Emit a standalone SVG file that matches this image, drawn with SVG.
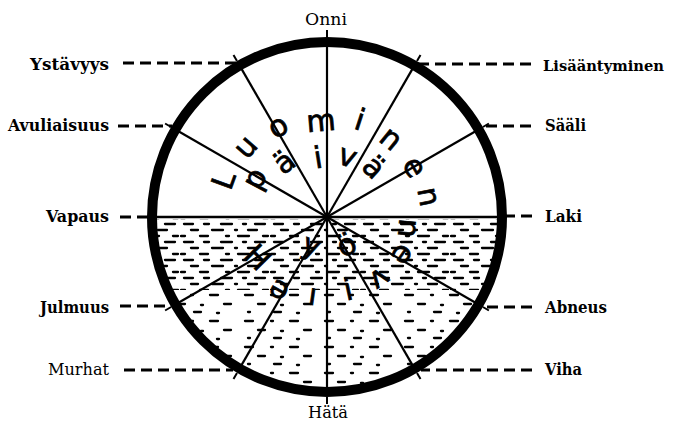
<svg xmlns="http://www.w3.org/2000/svg" width="673" height="421" viewBox="0 0 673 421">
<style>
.lbl{font-family:"DejaVu Serif","Liberation Serif",serif;font-weight:bold;font-size:16px;fill:#000}
.lbl2{font-family:"DejaVu Serif","Liberation Serif",serif;font-weight:normal;font-size:16px;fill:#000}
.dash{stroke:#000;stroke-width:2.8;stroke-dasharray:11 6;fill:none}
.spoke{stroke:#000;stroke-width:2.2;fill:none}
.tick{stroke:#000;stroke-width:2;fill:none}
.let{font-family:"DejaVu Sans","Noto Sans",sans-serif;font-size:30px;text-anchor:middle;fill:#000;stroke:#000;stroke-width:0.7}
.w{stroke:#000;stroke-width:2.3;stroke-linecap:round}
</style>
<defs>
<clipPath id="lowerHalf"><path d="M152 217 A175 175 0 0 0 502 217 Z"/></clipPath>
<pattern id="waterA" patternUnits="userSpaceOnUse" x="0" y="222" width="90" height="18">
<g class="w">
<line x1="4" y1="2" x2="13" y2="2"/><line x1="24" y1="2" x2="29" y2="2"/><line x1="41" y1="2" x2="52" y2="2"/><line x1="63" y1="2" x2="66" y2="2"/><line x1="75" y1="2" x2="85" y2="2"/>
<line x1="11" y1="8" x2="18" y2="8"/><line x1="32" y1="8" x2="43" y2="8"/><line x1="55" y1="8" x2="57" y2="8"/><line x1="68" y1="8" x2="77" y2="8"/>
<line x1="1" y1="14" x2="5" y2="14"/><line x1="20" y1="14" x2="28" y2="14"/><line x1="46" y1="14" x2="49" y2="14"/><line x1="58" y1="14" x2="69" y2="14"/><line x1="83" y1="14" x2="88" y2="14"/>
</g>
</pattern>
<pattern id="waterB" patternUnits="userSpaceOnUse" x="0" y="290" width="80" height="26">
<g class="w">
<line x1="5" y1="5" x2="13" y2="5"/><line x1="31" y1="5" x2="33" y2="5"/><line x1="50" y1="5" x2="58" y2="5"/>
<line x1="18" y1="14" x2="25" y2="14"/><line x1="41" y1="15" x2="43" y2="15"/><line x1="64" y1="14" x2="71" y2="14"/>
<line x1="8" y1="22" x2="10" y2="22"/><line x1="34" y1="22" x2="41" y2="22"/><line x1="57" y1="23" x2="59" y2="23"/>
</g>
</pattern>
</defs>
<rect width="673" height="421" fill="#fff"/>
<g id="wheel">
<circle cx="327" cy="217" r="175" fill="#fff"/>
<g clip-path="url(#lowerHalf)">
<rect x="150" y="219" width="355" height="71" fill="url(#waterA)"/>
<rect x="150" y="290" width="355" height="108" fill="url(#waterB)"/>
</g>
<g class="spoke">
<line x1="327" y1="217" x2="327" y2="42"/>
<line x1="327" y1="217" x2="414.5" y2="65.4"/>
<line x1="327" y1="217" x2="239.5" y2="65.4"/>
<line x1="327" y1="217" x2="478.6" y2="129.5"/>
<line x1="327" y1="217" x2="175.4" y2="129.5"/>
<line x1="327" y1="217" x2="502" y2="217" stroke-width="2.6"/>
<line x1="327" y1="217" x2="152" y2="217" stroke-width="2.6"/>
<line x1="327" y1="217" x2="478.6" y2="304.5"/>
<line x1="327" y1="217" x2="175.4" y2="304.5"/>
<line x1="327" y1="217" x2="414.5" y2="368.6"/>
<line x1="327" y1="217" x2="239.5" y2="368.6"/>
<line x1="327" y1="217" x2="327" y2="392"/>
</g>
<circle cx="327" cy="217" r="175" fill="none" stroke="#000" stroke-width="10"/>
<g class="tick">
<line x1="327" y1="37" x2="327" y2="30"/>
<line x1="417" y1="61.1" x2="420.5" y2="55.1"/>
<line x1="237" y1="61.1" x2="233.5" y2="55.1"/>
<line x1="482.9" y1="127" x2="488.9" y2="123.5"/>
<line x1="171.1" y1="127" x2="165.1" y2="123.5"/>
<line x1="482.9" y1="307" x2="488.9" y2="310.5"/>
<line x1="171.1" y1="307" x2="165.1" y2="310.5"/>
<line x1="417" y1="372.9" x2="420.5" y2="378.9"/>
<line x1="237" y1="372.9" x2="233.5" y2="378.9"/>
<line x1="327" y1="397" x2="327" y2="404"/>
</g>
<g id="luominen">
<text class="let" transform="translate(223,180) rotate(-70)" y="11">L</text>
<text class="let" transform="translate(247,148) rotate(-49)" y="8">u</text>
<text class="let" transform="translate(279,128) rotate(-29)" y="8">o</text>
<text class="let" transform="translate(321,123) rotate(-5)" y="8">m</text>
<text class="let" transform="translate(360,119) rotate(18)" y="11">i</text>
<text class="let" transform="translate(390,140) rotate(39)" y="8">n</text>
<text class="let" transform="translate(413,168) rotate(60)" y="8">e</text>
<text class="let" transform="translate(427,197) rotate(79)" y="8">n</text>
</g>
<g id="paiva">
<text class="let" transform="translate(259,181) rotate(-62)" y="5">p</text>
<text class="let" transform="translate(285,163) rotate(-38)" y="9">ä</text>
<text class="let" transform="translate(318,157) rotate(-9)" y="11">i</text>
<text class="let" transform="translate(347,158) rotate(19)" y="8">v</text>
<text class="let" transform="translate(373,168) rotate(43)" y="9">ä</text>
</g>
<g id="reflection">
<text class="let" transform="translate(258,257) rotate(45)" y="11">H</text>
<text class="let" transform="translate(310,250) rotate(20)" y="5">y</text>
<text class="let" transform="translate(347,246) rotate(-25)" y="9">ö</text>
<text class="let" transform="translate(402,254) rotate(-55)" y="8">ə</text>
<text class="let" transform="translate(407,228) rotate(-85)" y="8">u</text>
<text class="let" transform="translate(279,290) rotate(30)" y="8">ə</text>
<text class="let" transform="translate(313,294) rotate(8)" y="11">ı</text>
<text class="let" transform="translate(348,289) rotate(-12)" y="11">i</text>
<text class="let" transform="translate(379,278) rotate(-35)" y="8">ʌ</text>
</g>
</g>
<g id="connectors">
<line class="dash" x1="123" y1="63" x2="236" y2="63"/>
<line class="dash" x1="118" y1="126" x2="172" y2="126"/>
<line class="dash" x1="120" y1="217" x2="148" y2="217"/>
<line class="dash" x1="120" y1="306" x2="171" y2="306"/>
<line class="dash" x1="124" y1="370" x2="233" y2="370"/>
<line class="dash" x1="531" y1="64" x2="418" y2="64"/>
<line class="dash" x1="531" y1="126" x2="482" y2="126"/>
<line class="dash" x1="532" y1="216" x2="506" y2="216"/>
<line class="dash" x1="532" y1="307" x2="483" y2="307"/>
<line class="dash" x1="532" y1="370" x2="421" y2="370"/>
</g>
<g id="onni"><text class="lbl2" x="305" y="25" textLength="42" lengthAdjust="spacingAndGlyphs">Onni</text></g>
<g id="hata"><text class="lbl2" x="308" y="418" textLength="40" lengthAdjust="spacingAndGlyphs">Hätä</text></g>
<g id="ystavyys"><text class="lbl" x="30" y="70" textLength="79" lengthAdjust="spacingAndGlyphs">Ystävyys</text></g>
<g id="avuliaisuus"><text class="lbl" x="8" y="131" textLength="101" lengthAdjust="spacingAndGlyphs">Avuliaisuus</text></g>
<g id="vapaus"><text class="lbl" x="46" y="222" textLength="63" lengthAdjust="spacingAndGlyphs">Vapaus</text></g>
<g id="julmuus"><text class="lbl" x="40" y="313" textLength="69" lengthAdjust="spacingAndGlyphs">Julmuus</text></g>
<g id="murhat"><text class="lbl2" x="48" y="375" textLength="61" lengthAdjust="spacingAndGlyphs">Murhat</text></g>
<g id="lisaantyminen"><text class="lbl" x="543" y="71" style="font-size:14px" textLength="121" lengthAdjust="spacingAndGlyphs">Lisääntyminen</text></g>
<g id="saali"><text class="lbl" x="545" y="131" textLength="41" lengthAdjust="spacingAndGlyphs">Sääli</text></g>
<g id="laki"><text class="lbl" x="545" y="222" textLength="37" lengthAdjust="spacingAndGlyphs">Laki</text></g>
<g id="abneus"><text class="lbl" x="545" y="313" textLength="62" lengthAdjust="spacingAndGlyphs">Abneus</text></g>
<g id="viha"><text class="lbl" x="545" y="375" textLength="37" lengthAdjust="spacingAndGlyphs">Viha</text></g>
</svg>
